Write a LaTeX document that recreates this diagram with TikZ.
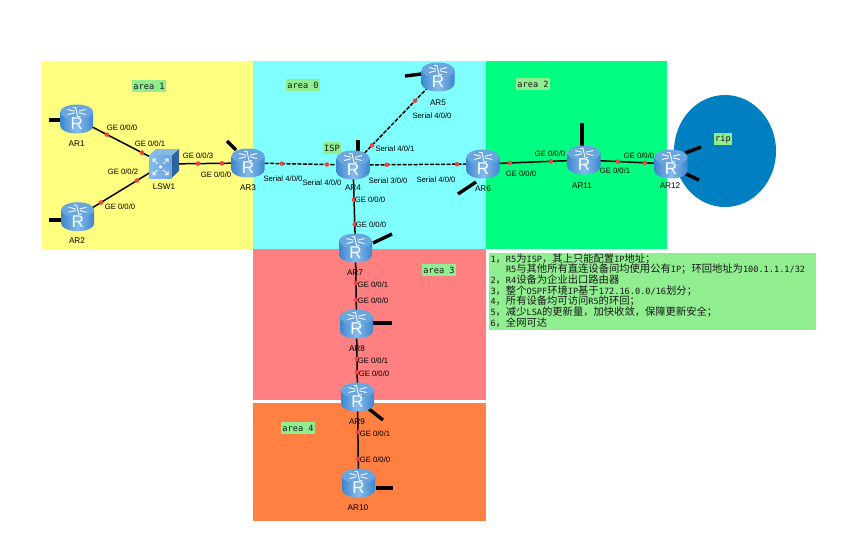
\documentclass[tikz,border=0pt]{standalone}
\usepackage{fontspec}
\usetikzlibrary{shapes.geometric}
\setmainfont{Liberation Sans}
\setmonofont{DejaVu Sans Mono}
\newfontfamily\zhfont{Noto Sans CJK SC}
\newcommand{\zh}[1]{{\zhfont\fontsize{10.3}{10.7}\selectfont #1}}
\definecolor{areaY}{HTML}{FFFF80}
\definecolor{areaC}{HTML}{80FFFF}
\definecolor{areaG}{HTML}{00FF80}
\definecolor{areaR}{HTML}{FF8080}
\definecolor{areaO}{HTML}{FF8040}
\definecolor{ripblue}{HTML}{0080C0}
\definecolor{notegreen}{HTML}{90EE90}
\definecolor{rtA}{HTML}{3E86CE}
\definecolor{rtB}{HTML}{86BCEC}
\definecolor{rtC}{HTML}{69A6E0}
\definecolor{dotred}{HTML}{F04040}
\tikzset{
  x=1pt,y=-1pt,
  region/.style={anchor=north west,inner sep=0pt,outer sep=0pt},
  notebox/.style={fill=notegreen,font=\ttfamily\fontsize{8.6}{10}\selectfont,inner sep=1.5pt,minimum height=11.5pt,text=black!90},
  devlabel/.style={font=\fontsize{8.2}{9}\selectfont,text=black,inner sep=0pt},
  portlabel/.style={font=\fontsize{7.7}{9}\selectfont,text=black,inner sep=0pt},
  portdot/.style={circle,fill=dotred,draw=none,minimum size=4.6pt,inner sep=0pt},
  solidlink/.style={draw=black,line width=1.5pt},
  seriallink/.style={draw=black,line width=1.5pt,dash pattern=on 4pt off 1.5pt},
  stub/.style={draw=black,line width=3.4pt},
}
\newcommand{\portlink}[5]{\draw[#1] (#2) -- node[portdot,pos=#4] (#2#3a) {} node[portdot,pos=#5] (#2#3b) {} (#3);}
\newcommand{\routericon}[1]{%
  \begin{scope}[shift={(#1)}]
    \path[left color=rtA,right color=rtA,middle color=rtB] (-16.5,-7) -- (-16.5,7) arc[start angle=180,end angle=360,x radius=16.5pt,y radius=7.5pt] -- (16.5,-7) -- cycle;
    \fill[rtC] (0,-7) ellipse[x radius=16.5pt,y radius=7.5pt];
    \draw[white!90!rtC,line width=1pt] (-9,-9.5)--(-2,-7.8) (9,-9.5)--(2,-7.8) (-9,-4.5)--(-2,-6.2) (9,-4.5)--(2,-6.2) (-1,-11.5)--(1,-2.5) (-4,-11.5)--(-1,-11.5) (1,-2.5)--(4,-2.5);
    \node[white,font=\fontsize{17}{17}\selectfont,inner sep=0pt] (#1R) at (0,5) {R};
  \end{scope}}
\begin{document}
\begin{tikzpicture}
\useasboundingbox (0,0) rectangle (854,550);
\fill[white] (0,0) rectangle (854,550);
% regions
\node[region,fill=areaY,minimum width=211pt,minimum height=189pt] (reg1) at (42,61) {};
\node[region,fill=areaC,minimum width=233pt,minimum height=188pt] (reg0) at (253,61) {};
\node[region,fill=areaG,minimum width=181pt,minimum height=188pt] (reg2) at (486,61) {};
\node[region,fill=areaR,minimum width=233pt,minimum height=151pt] (reg3) at (253,249) {};
\node[region,fill=areaO,minimum width=233pt,minimum height=118pt] (reg4) at (253,403) {};
\node[ellipse,fill=ripblue,minimum width=102pt,minimum height=112pt,inner sep=0pt] (ripzone) at (725,151) {};
% device positions
\coordinate (AR1) at (76.7,119);
\coordinate (AR2) at (77.7,216.7);
\coordinate (LSW1) at (164,164);
\coordinate (AR3) at (248,163);
\coordinate (AR4) at (353,165);
\coordinate (AR5) at (438,77);
\coordinate (AR6) at (483,164);
\coordinate (AR7) at (355.5,248);
\coordinate (AR8) at (356.5,324);
\coordinate (AR9) at (357.5,397);
\coordinate (AR10) at (358.5,483);
\coordinate (AR11) at (584,160);
\coordinate (AR12) at (671,164);
% stubs
\draw[stub] (49,120) -- (62,120);
\draw[stub] (49,220) -- (62,220);
\draw[stub] (227,141) -- (236,150);
\draw[stub] (358,140) -- (358,152);
\draw[stub] (405,76) -- (421,74);
\draw[stub] (458,194) -- (476,182);
\draw[stub] (373,243) -- (392,234);
\draw[stub] (373,323) -- (392,323);
\draw[stub] (369,409) -- (383,420);
\draw[stub] (376,488) -- (393,488);
\draw[stub] (582,123) -- (582,146);
\draw[stub] (685,153) -- (701,147);
\draw[stub] (684,173) -- (699,180);
% links
\portlink{solidlink}{AR1}{LSW1}{.347}{.747}
\portlink{solidlink}{AR2}{LSW1}{.27}{.687}
\portlink{solidlink}{LSW1}{AR3}{.405}{.69}
\portlink{seriallink}{AR3}{AR4}{.324}{.752}
\portlink{seriallink}{AR4}{AR5}{.224}{.73}
\portlink{seriallink}{AR4}{AR6}{.26}{.8}
\portlink{solidlink}{AR4}{AR7}{.417}{.714}
\portlink{solidlink}{AR7}{AR8}{.46}{.684}
\portlink{solidlink}{AR8}{AR9}{.48}{.658}
\portlink{solidlink}{AR9}{AR10}{.407}{.72}
\portlink{solidlink}{AR6}{AR11}{.267}{.673}
\portlink{solidlink}{AR11}{AR12}{.39}{.70}
% routers
\routericon{AR1}\routericon{AR2}\routericon{AR3}\routericon{AR4}\routericon{AR5}\routericon{AR6}
\routericon{AR7}\routericon{AR8}\routericon{AR9}\routericon{AR10}\routericon{AR11}\routericon{AR12}
% switch
\begin{scope}[shift={(LSW1)}]
  \fill[rtA!75!black] (7.5,-8.5) -- (15,-15) -- (15,7) -- (7.5,14) -- cycle;
  \fill[rtC!80!white] (-15,-8.5) -- (-8,-15) -- (15,-15) -- (7.5,-8.5) -- cycle;
  \path[left color=rtB,right color=rtC] (-15,-8.5) rectangle (7.5,14);
  \draw[white,line width=1pt] (-11,-5)--(-6.5,-.5) (-11,-2)--(-11,-5)--(-8,-5) (4,-5)--(-.5,-.5) (4,-2)--(4,-5)--(1,-5) (-11,10.5)--(-6.5,6) (-11,7.5)--(-11,10.5)--(-8,10.5) (4,10.5)--(-.5,6) (4,7.5)--(4,10.5)--(1,10.5);
  \fill[white] (-3.5,2.8) circle[radius=1.8pt];
\end{scope}
% device labels
\node[devlabel] (lAR1) at (76.7,144) {AR1};
\node[devlabel] (lAR2) at (77,241) {AR2};
\node[devlabel] (lLSW1) at (164,187) {LSW1};
\node[devlabel] (lAR3) at (248,188) {AR3};
\node[devlabel] (lAR4) at (353,188) {AR4};
\node[devlabel] (lAR5) at (438,103) {AR5};
\node[devlabel] (lAR6) at (483,189) {AR6};
\node[devlabel] (lAR7) at (355,273) {AR7};
\node[devlabel] (lAR8) at (357,349) {AR8};
\node[devlabel] (lAR9) at (357,422) {AR9};
\node[devlabel] (lAR10) at (358,508) {AR10};
\node[devlabel] (lAR11) at (582,186) {AR11};
\node[devlabel] (lAR12) at (670,186) {AR12};
% port labels
\node[portlabel] (p1) at (122,128) {GE 0/0/0};
\node[portlabel] (p2) at (150,144) {GE 0/0/1};
\node[portlabel] (p3) at (123,172) {GE 0/0/2};
\node[portlabel] (p4) at (120,207) {GE 0/0/0};
\node[portlabel] (p5) at (198,156) {GE 0/0/3};
\node[portlabel] (p6) at (216,175) {GE 0/0/0};
\node[portlabel] (p7) at (283,179) {Serial 4/0/0};
\node[portlabel] (p8) at (322,183) {Serial 4/0/0};
\node[portlabel] (p9) at (395,149) {Serial 4/0/1};
\node[portlabel] (p10) at (432,116) {Serial 4/0/0};
\node[portlabel] (p11) at (388,181) {Serial 3/0/0};
\node[portlabel] (p12) at (436,180) {Serial 4/0/0};
\node[portlabel] (p13) at (370,200) {GE 0/0/0};
\node[portlabel] (p14) at (371,225) {GE 0/0/0};
\node[portlabel] (p15) at (373,285) {GE 0/0/1};
\node[portlabel] (p16) at (373,301) {GE 0/0/0};
\node[portlabel] (p17) at (373,361) {GE 0/0/1};
\node[portlabel] (p18) at (374,374) {GE 0/0/0};
\node[portlabel] (p19) at (375,434) {GE 0/0/1};
\node[portlabel] (p20) at (375,460) {GE 0/0/0};
\node[portlabel] (p21) at (521,174) {GE 0/0/0};
\node[portlabel] (p22) at (550,154) {GE 0/0/0};
\node[portlabel] (p23) at (615,171) {GE 0/0/1};
\node[portlabel] (p24) at (639,156) {GE 0/0/0};
% note labels
\node[notebox] (a1) at (149,86) {area 1};
\node[notebox] (a0) at (303,85) {area 0};
\node[notebox] (a2) at (533,84) {area 2};
\node[notebox] (a3) at (439,270) {area 3};
\node[notebox] (a4) at (298,428) {area 4};
\node[notebox] (arip) at (723,139) {rip};
\node[notebox] (aisp) at (332,148) {ISP};
\node[notebox,anchor=north west,minimum width=327pt,minimum height=77pt,outer sep=0pt] (notes) at (489,253) {};
\node[font=\ttfamily\fontsize{8.6}{10}\selectfont,text=black!90,inner sep=0pt,text width=324pt,align=left,anchor=center,yshift=.8pt] (notetext) at (notes.center) {%
\lineskiplimit=-6pt\setlength{\baselineskip}{10.7pt}%
1\zh{，}R5\zh{为}ISP\zh{，其上只能配置}IP\zh{地址；}\\
\hspace*{15.5pt}R5\zh{与其他所有直连设备间均使用公有}IP\zh{；环回地址为}100.1.1.1/32\\
2\zh{，}R4\zh{设备为企业出口路由器}\\
3\zh{，整个}OSPF\zh{环境}IP\zh{基于}172.16.0.0/16\zh{划分；}\\
4\zh{，所有设备均可访问}R5\zh{的环回；}\\
5\zh{，减少}LSA\zh{的更新量，加快收敛，保障更新安全；}\\
6\zh{，全网可达}};
\end{tikzpicture}
\end{document}
